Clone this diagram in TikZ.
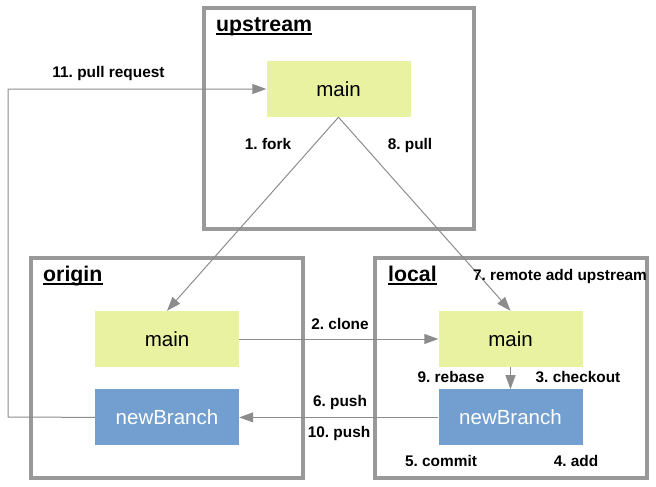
\documentclass[tikz,border=0pt]{standalone}
\usepackage{fontspec}
\setmainfont{Liberation Sans}
\usetikzlibrary{positioning, arrows.meta}
\definecolor{mainfill}{HTML}{E8F2A1}
\definecolor{branchfill}{HTML}{729FCF}
\definecolor{linkgray}{HTML}{8C8C8C}
\definecolor{repogray}{HTML}{999999}
\frenchspacing

\begin{document}
\begin{tikzpicture}[x=1pt, y=-1pt, node distance={22pt},
  repo/.style = {draw=repogray, line width=3.5pt},
  head/.style = {anchor=base west, inner sep=0pt, font=\fontsize{21.3}{21.3}\selectfont\bfseries},
  main/.style = {fill=mainfill, minimum width=144pt, minimum height=56pt, inner sep=0pt, font=\fontsize{20.5}{20.5}\selectfont},
  branch/.style = {main, fill=branchfill, text=white},
  act/.style = {inner sep=0pt, text height=11pt, text depth=0pt, font=\fontsize{15.4}{15.4}\selectfont\bfseries},
  link/.style = {draw=linkgray, line width=1pt, -{Triangle[length=14pt,width=10pt]}}]
\useasboundingbox (0,0) rectangle (656,487);

% repositories
\draw[repo] (204,8) rectangle (474,229);
\draw[repo] (31,258) rectangle (303,478);
\draw[repo] (375,258) rectangle (647,478);
\node[head] (uh) at (216,31.5) {upstream};
\node[head] (oh) at (43,281.5) {origin};
\node[head] (lh) at (388,281.5) {local};
\foreach \h in {uh, oh, lh}
  \draw[line width=1.4pt] ([yshift=-2.5pt]\h.base west) -- ([yshift=-2.5pt]\h.base east);

% branches
\node[main] (um) at (338.5,89) {main};
\node[main] (om) at (167,339) {main};
\node[branch] (ob) [below=of om] {newBranch};
\node[main] (lm) at (510.5,339) {main};
\node[branch] (lb) [below=of lm] {newBranch};
\coordinate (pr) at (8,417);

\draw[link] (um.south) -- (om.north);
\draw[link] (um.south) -- (lm.north);
\draw[link] (om.east) -- (lm.west);
\draw[link] (lm.south) -- (lb.north);
\draw[link] (lb.west) -- (ob.east);
\draw[link] (ob.west) -- (pr) |- (um.west);

% steps
\node[act] (s1) at (268,144) {1. fork};
\node[act] (s2) at (340,324) {2. clone};
\node[act] (s3) at (578,377) {3. checkout};
\node[act] (s4) at (576,461) {4. add};
\node[act] (s5) at (441,461) {5. commit};
\node[act] (s6) at (340,401) {6. push};
\node[act] (s7) at (560,275) {7. remote add upstream};
\node[act] (s8) at (410,144) {8. pull};
\node[act] (s9) at (451,377) {9. rebase};
\node[act] (s10) at (339,432) {10. push};
\node[act] (s11) at (108.5,72) {11. pull request};

\end{tikzpicture}
\end{document}
